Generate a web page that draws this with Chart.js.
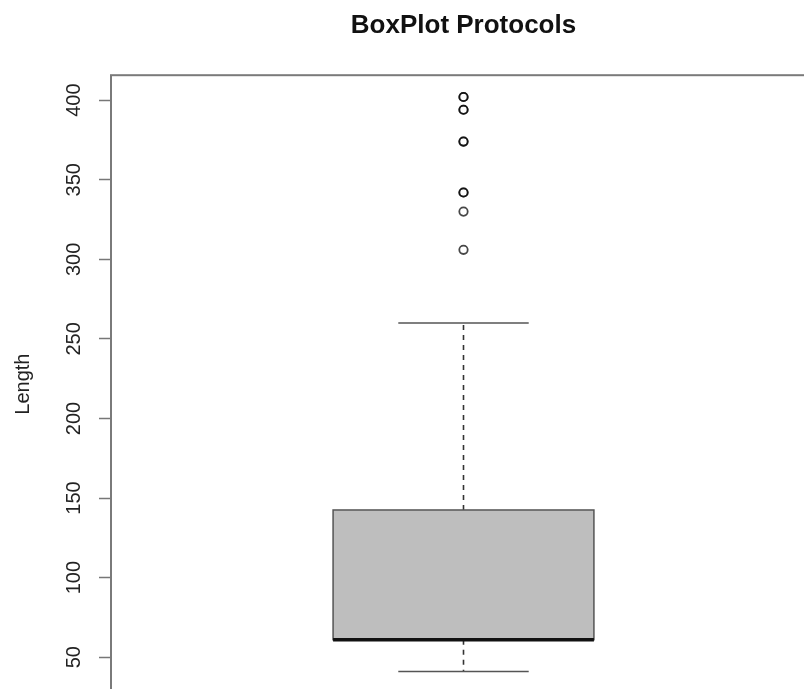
<!DOCTYPE html>
<html>
<head>
<meta charset="utf-8">
<script src="https://cdn.jsdelivr.net/npm/chart.js@4.4.1/dist/chart.umd.min.js"></script>
<style>
html, body { margin: 0; padding: 0; background: #fff; overflow: hidden; }
#wrap { width: 804px; height: 689px; overflow: hidden; position: relative; }
#myChart { position: absolute; left: 0; top: 0; }
</style>
</head>
<body>
<div id="wrap"><canvas id="myChart" width="830" height="720"></canvas></div>
<script>
// datos
const titulo = 'BoxPlot Protocols';
const etiquetaY = 'Length';
const categoria = 'Protocols';
const posicionCaja = 1;
// bigote inferior, Q1, mediana, Q3, bigote superior
const resumenCaja = [41, 61, 61, 142.5, 260];
const atipicos = [306, 330, 342, 342, 374, 374, 394, 394, 402, 402];
const ticksY = [50, 100, 150, 200, 250, 300, 350, 400];

const fuente = '"Liberation Sans", Arial, sans-serif';

// dibuja la caja, bigotes, marco y etiquetas del eje
const boxPlotPlugin = {
    id: 'boxPlotPlugin',
    beforeDatasetsDraw(chart) {
        const ctx = chart.ctx;
        const sx = chart.scales.x;
        const sy = chart.scales.y;
        const [minW, q1, med, q3, maxW] = resumenCaja;

        const cx = sx.getPixelForValue(posicionCaja);
        const medioAncho = sx.getPixelForValue(posicionCaja + 0.37) - cx;
        const medioCap = medioAncho / 2;

        ctx.save();
        // bigotes punteados
        ctx.strokeStyle = '#333';
        ctx.lineWidth = 1.6;
        ctx.setLineDash([5, 5]);
        ctx.beginPath();
        ctx.moveTo(cx, sy.getPixelForValue(q3));
        ctx.lineTo(cx, sy.getPixelForValue(maxW));
        ctx.moveTo(cx, sy.getPixelForValue(q1));
        ctx.lineTo(cx, sy.getPixelForValue(minW));
        ctx.stroke();
        ctx.setLineDash([]);

        // topes de los bigotes
        ctx.strokeStyle = '#555';
        ctx.lineWidth = 1.5;
        ctx.beginPath();
        [minW, maxW].forEach(v => {
            const y = sy.getPixelForValue(v);
            ctx.moveTo(cx - medioCap, y);
            ctx.lineTo(cx + medioCap, y);
        });
        ctx.stroke();

        // caja
        const yTop = sy.getPixelForValue(q3);
        const yBot = sy.getPixelForValue(q1);
        ctx.fillStyle = '#bebebe';
        ctx.fillRect(cx - medioAncho, yTop, medioAncho * 2, yBot - yTop);
        ctx.strokeStyle = '#555';
        ctx.lineWidth = 1.5;
        ctx.strokeRect(cx - medioAncho, yTop, medioAncho * 2, yBot - yTop);

        // mediana
        const yMed = sy.getPixelForValue(med);
        ctx.strokeStyle = '#111';
        ctx.lineWidth = 3.5;
        ctx.beginPath();
        ctx.moveTo(cx - medioAncho, yMed);
        ctx.lineTo(cx + medioAncho, yMed);
        ctx.stroke();
        ctx.restore();
    },
    afterDraw(chart) {
        const ctx = chart.ctx;
        const area = chart.chartArea;
        const sy = chart.scales.y;

        ctx.save();
        // marco del grafico
        ctx.strokeStyle = '#7a7a7a';
        ctx.lineWidth = 2;
        ctx.strokeRect(area.left, area.top, area.right - area.left, area.bottom - area.top);

        // etiquetas verticales del eje y
        ctx.fillStyle = '#222';
        ctx.font = '20px ' + fuente;
        ctx.textAlign = 'center';
        ctx.textBaseline = 'middle';
        sy.ticks.forEach(t => {
            const y = sy.getPixelForValue(t.value);
            ctx.save();
            ctx.translate(area.left - 37, y);
            ctx.rotate(-Math.PI / 2);
            ctx.fillText(String(t.value), 0, 0);
            ctx.restore();
        });
        ctx.restore();
    }
};

let myChart = null;
const ctx = document.getElementById('myChart');

myChart = new Chart(ctx, {
    type: 'scatter',
    data: {
        datasets: [{
            label: categoria,
            data: atipicos.map(v => ({x: posicionCaja, y: v})),
            pointStyle: 'circle',
            pointRadius: 4.2,
            pointBorderWidth: 1.8,
            borderColor: 'rgba(0,0,0,0.72)',
            backgroundColor: 'rgba(0,0,0,0)'
        }]
    },
    options: {
        responsive: false,
        animation: false,
        layout: {
            padding: {left: 0, top: 0, right: 14, bottom: 27}
        },
        plugins: {
            legend: {display: false},
            tooltip: {enabled: false},
            title: {
                display: true,
                text: titulo,
                fullSize: false,
                color: '#111',
                font: {family: fuente, size: 26, weight: 'bold'},
                padding: {top: 10, bottom: 34}
            }
        },
        scales: {
            x: {
                type: 'linear',
                min: 0,
                max: 2,
                display: false
            },
            y: {
                min: 27.5,
                max: 415.7,
                afterBuildTicks: s => { s.ticks = ticksY.map(v => ({value: v})); },
                afterFit: s => { s.width = 111; },
                ticks: {display: false},
                grid: {
                    drawOnChartArea: false,
                    drawTicks: true,
                    tickLength: 12,
                    tickColor: '#777',
                    tickWidth: 1.5,
                    color: '#777'
                },
                border: {display: false},
                title: {
                    display: true,
                    text: etiquetaY,
                    color: '#222',
                    font: {family: fuente, size: 20},
                    padding: {top: 11, bottom: 0}
                }
            }
        }
    },
    plugins: [boxPlotPlugin]
});
</script>
</body>
</html>
